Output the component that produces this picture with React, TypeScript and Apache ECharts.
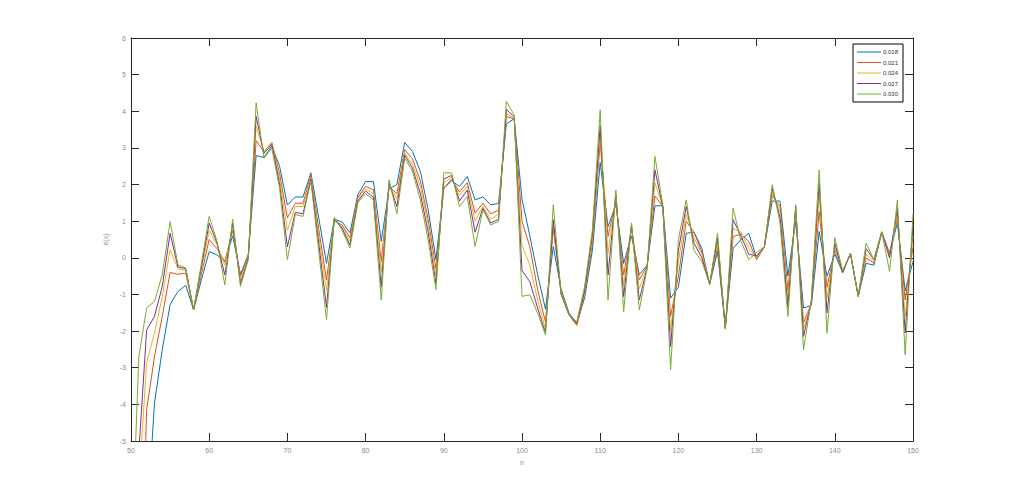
import React, { useEffect, useRef } from "react";
import * as echarts from "echarts";

const nStart = 50;
const seriesNames = ["0.018", "0.021", "0.024", "0.027", "0.030"];
const colors = ["#0072BD", "#D95319", "#EDB120", "#7E2F8E", "#77AC30"];

const s018 = [-15, -11, -7.4, -3.97, -2.5, -1.28, -0.92, -0.75, -1.42, -0.6,
  0.17, 0.08, -0.1, 0.6, -0.45, 0.1, 2.79, 2.74, 3.05, 2.5,
  1.44, 1.66, 1.66, 2.32, 1.1, -0.15, 1.05, 0.98, 0.68, 1.72,
  2.08, 2.08, 0.45, 1.88, 2.0, 3.15, 2.9, 2.36, 1.31, -0.05,
  1.9, 2.1, 1.95, 2.22, 1.58, 1.66, 1.45, 1.48, 3.65, 3.8,
  1.6, 0.6, -0.46, -1.4, 0.31, -0.85, -1.5, -1.8, -1.1, 0.2,
  2.6, 0.85, 1.45, -0.15, 0.6, -0.46, -0.2, 1.42, 1.42, -1.1,
  -0.8, 0.67, 0.7, 0.25, -0.72, 0.17, -1.9, 0.26, 0.5, 0.67,
  0.0, 0.3, 1.55, 1.55, -0.5, 1.0, -1.37, -1.3, 0.72, -0.5,
  0.1, -0.4, 0.12, -1.05, -0.15, -0.2, 0.7, 0.13, 0.95, -0.9,
  -0.1];
const s021 = [-16, -11, -4.15, -2.7, -1.6, -0.4, -0.45, -0.42, -1.42, -0.45,
  0.5, 0.25, -0.1, 0.75, -0.5, 0.05, 3.2, 2.9, 3.15, 2.3,
  1.09, 1.49, 1.49, 2.25, 0.8, -0.6, 1.0, 0.9, 0.55, 1.65,
  1.95, 1.86, -0.1, 1.95, 1.75, 2.95, 2.7, 2.1, 1.05, -0.3,
  1.9, 2.15, 1.8, 2.05, 1.22, 1.49, 1.2, 1.3, 3.85, 3.8,
  1.0, 0.3, -0.87, -1.75, 0.8, -0.9, -1.55, -1.85, -1.0, 0.4,
  3.15, 0.58, 1.55, -0.47, 0.8, -0.6, -0.22, 1.69, 1.4, -1.6,
  -0.5, 1.0, 0.7, 0.15, -0.72, 0.3, -1.9, 0.58, 0.65, 0.45,
  -0.05, 0.3, 1.7, 1.4, -0.9, 1.2, -1.77, -1.25, 1.26, -0.8,
  0.22, -0.4, 0.12, -1.05, 0.0, -0.15, 0.7, 0.1, 1.1, -1.15,
  0.3];
const s024 = [-11, -6.2, -2.87, -2.05, -1.06, 0.22, -0.3, -0.35, -1.42, -0.35,
  0.75, 0.35, -0.2, 0.85, -0.6, 0.05, 3.6, 2.9, 3.15, 2.15,
  0.75, 1.4, 1.4, 2.2, 0.6, -0.9, 1.05, 0.85, 0.45, 1.6,
  1.88, 1.75, -0.4, 2.0, 1.6, 2.85, 2.55, 1.95, 0.9, -0.5,
  2.05, 2.2, 1.7, 1.95, 1.0, 1.4, 1.05, 1.2, 3.95, 3.8,
  0.35, -0.2, -1.15, -1.95, 0.95, -0.95, -1.55, -1.85, -0.95, 0.55,
  3.4, 0.12, 1.65, -0.75, 0.85, -0.85, -0.25, 2.05, 1.4, -2.0,
  -0.1, 1.2, 0.55, 0.1, -0.72, 0.45, -1.9, 0.8, 0.7, 0.25,
  0.0, 0.3, 1.8, 1.25, -1.15, 1.3, -1.95, -1.2, 1.7, -1.1,
  0.3, -0.4, 0.12, -1.05, 0.1, -0.1, 0.7, 0.05, 1.2, -1.6,
  0.6];
const s027 = [-9, -5.3, -1.97, -1.6, -0.78, 0.67, -0.25, -0.3, -1.42, -0.25,
  0.95, 0.4, -0.47, 0.95, -0.7, 0.0, 3.86, 2.85, 3.1, 2.0,
  0.3, 1.24, 1.2, 2.15, 0.4, -1.35, 1.08, 0.8, 0.35, 1.55,
  1.82, 1.65, -0.8, 2.05, 1.4, 2.8, 2.45, 1.75, 0.7, -0.7,
  2.15, 2.25, 1.55, 1.85, 0.7, 1.35, 0.95, 1.05, 4.05, 3.85,
  -0.35, -0.65, -1.37, -2.05, 1.04, -1.0, -1.55, -1.8, -0.9, 0.65,
  3.6, -0.47, 1.75, -1.06, 0.9, -1.15, -0.28, 2.4, 1.4, -2.42,
  0.2, 1.4, 0.4, 0.0, -0.72, 0.55, -1.92, 1.04, 0.6, 0.1,
  0.05, 0.3, 1.9, 1.1, -1.35, 1.4, -2.15, -1.2, 2.04, -1.5,
  0.4, -0.4, 0.12, -1.05, 0.25, -0.05, 0.7, 0.0, 1.35, -2.05,
  0.9];
const s030 = [-8.45, -2.7, -1.37, -1.19, -0.46, 0.99, -0.19, -0.28, -1.42, -0.16,
  1.13, 0.45, -0.74, 1.05, -0.78, -0.05, 4.23, 2.72, 3.0, 1.9,
  -0.05, 1.18, 1.13, 2.1, 0.2, -1.69, 1.1, 0.75, 0.27, 1.5,
  1.75, 1.58, -1.15, 2.13, 1.2, 2.72, 2.36, 1.58, 0.49, -0.87,
  2.32, 2.32, 1.4, 1.67, 0.31, 1.31, 0.9, 0.99, 4.27, 3.9,
  -1.05, -1.01, -1.51, -2.1, 1.45, -1.0, -1.55, -1.75, -0.8, 0.75,
  4.04, -1.15, 1.85, -1.47, 0.95, -1.42, -0.3, 2.77, 1.45, -3.06,
  0.5, 1.58, 0.2, -0.1, -0.72, 0.67, -1.95, 1.36, 0.45, -0.05,
  0.15, 0.3, 2.0, 0.95, -1.6, 1.45, -2.51, -1.15, 2.4, -2.06,
  0.55, -0.35, 0.12, -1.05, 0.4, -0.05, 0.72, -0.37, 1.58, -2.65,
  1.2];

const allSeries = [s018, s021, s024, s027, s030];

const axisColor = "#262626";
const labelColor = "#8c8c8c";
const font = "Liberation Sans, Arial, sans-serif";

export default function App() {
  const ref = useRef<HTMLDivElement>(null);
  useEffect(() => {
    if (!ref.current) return;
    const chart = echarts.init(ref.current, null, { renderer: "svg" });
    const commonX = { type: "value", min: 50, max: 150, interval: 10 };
    const commonY = { type: "value", min: -5, max: 6, interval: 1 };
    chart.setOption({
      animation: false,
      backgroundColor: "#fff",
      grid: { left: 131, top: 38, right: 96, bottom: 54 },
      legend: {
        orient: "vertical",
        left: 853,
        top: 44,
        padding: [4, 5, 4, 4],
        icon: "rect",
        itemWidth: 24,
        itemHeight: 1,
        itemGap: 2.5,
        borderColor: "#000",
        borderWidth: 1,
        backgroundColor: "#fff",
        textStyle: { fontSize: 6, lineHeight: 8, color: "#333", fontFamily: font, padding: [0, 0, 0, -3] },
        data: seriesNames,
      },
      xAxis: [
        {
          ...commonX,
          position: "bottom",
          name: "n",
          nameLocation: "middle",
          nameGap: 18,
          nameTextStyle: { fontSize: 7, color: labelColor, fontFamily: font },
          axisLine: { show: true, onZero: false, lineStyle: { color: axisColor, width: 1 } },
          axisTick: { show: true, inside: true, length: 8, lineStyle: { color: axisColor } },
          axisLabel: { fontSize: 7, color: labelColor, margin: 6, fontFamily: font },
          splitLine: { show: false },
        },
        {
          ...commonX,
          position: "top",
          axisLine: { show: true, onZero: false, lineStyle: { color: axisColor, width: 1 } },
          axisTick: { show: true, inside: true, length: 8, lineStyle: { color: axisColor } },
          axisLabel: { show: false },
          splitLine: { show: false },
        },
      ],
      yAxis: [
        {
          ...commonY,
          position: "left",
          name: "e(x)",
          nameLocation: "middle",
          nameGap: 13,
          nameRotate: 90,
          nameTextStyle: { fontSize: 7, color: labelColor, fontFamily: font },
          axisLine: { show: true, onZero: false, lineStyle: { color: axisColor, width: 1 } },
          axisTick: { show: true, inside: true, length: 8, lineStyle: { color: axisColor } },
          axisLabel: { fontSize: 7, color: labelColor, margin: 5, fontFamily: font },
          splitLine: { show: false },
        },
        {
          ...commonY,
          position: "right",
          axisLine: { show: true, onZero: false, lineStyle: { color: axisColor, width: 1 } },
          axisTick: { show: true, inside: true, length: 8, lineStyle: { color: axisColor } },
          axisLabel: { show: false },
          splitLine: { show: false },
        },
      ],
      series: allSeries.map((vals, si) => ({
        name: seriesNames[si],
        type: "line",
        xAxisIndex: 0,
        yAxisIndex: 0,
        symbol: "none",
        clip: true,
        color: colors[si],
        lineStyle: { width: 1, color: colors[si] },
        data: vals.map((v, i) => [nStart + i, v]),
      })),
    });
    return () => chart.dispose();
  }, []);
  return (
    <div
      ref={ref}
      style={{ position: "fixed", left: 0, top: 0, width: 1009, height: 495 }}
    />
  );
}
